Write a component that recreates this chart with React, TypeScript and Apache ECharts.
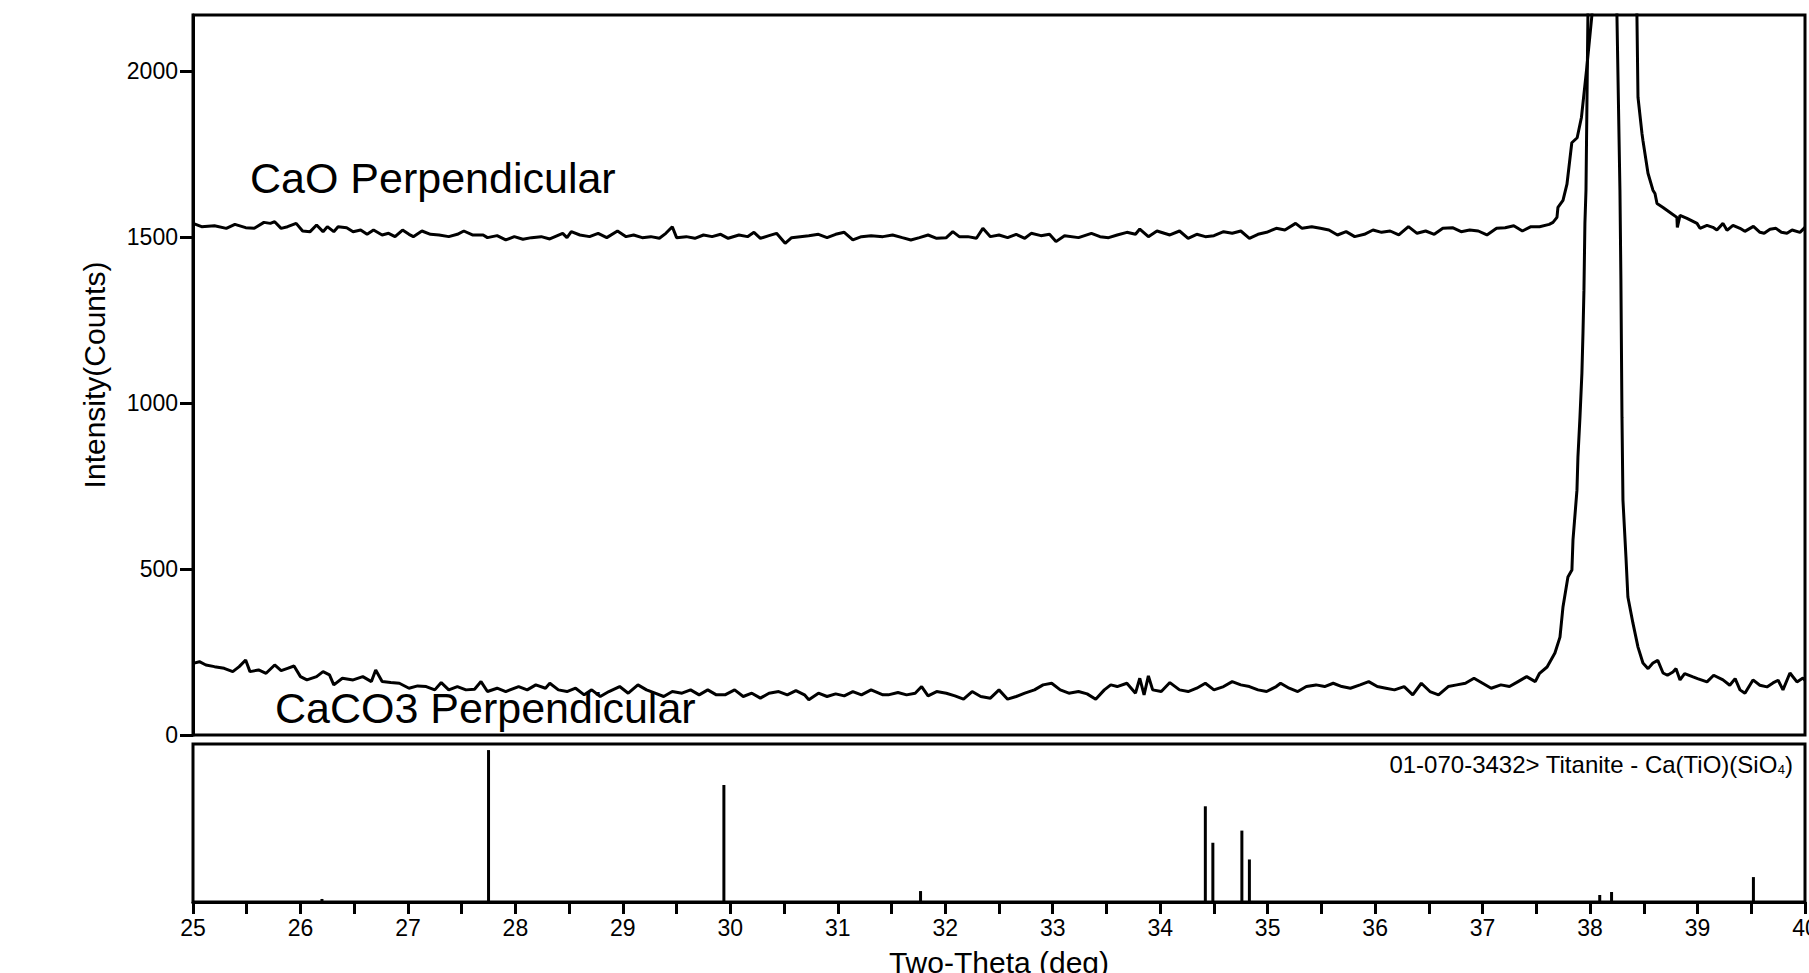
import React, { useEffect, useRef } from 'react';
import * as echarts from 'echarts';

const FONT = '"Liberation Sans", Arial, Helvetica, sans-serif';

// Upper panel tick values (Intensity, counts)
const yTickValues = [0, 500, 1000, 1500, 2000];

// CaO Perpendicular pattern: [two-theta (deg), intensity (counts)]
const caoPerpendicular: [number, number][] = [
  [25.0, 1542], [25.08, 1532], [25.2, 1535], [25.31, 1527], [25.39, 1539], [25.49, 1529], [25.57, 1527],
  [25.66, 1545], [25.72, 1542], [25.76, 1547], [25.82, 1527], [25.88, 1532], [25.96, 1542], [26.02, 1519],
  [26.09, 1517], [26.15, 1537], [26.21, 1517], [26.25, 1532], [26.31, 1517], [26.35, 1532], [26.43, 1529],
  [26.49, 1517], [26.56, 1522], [26.62, 1509], [26.68, 1522], [26.76, 1507], [26.82, 1512], [26.88, 1502],
  [26.95, 1522], [27.01, 1509], [27.05, 1502], [27.13, 1519], [27.21, 1509], [27.29, 1507], [27.38, 1502],
  [27.46, 1509], [27.52, 1519], [27.6, 1507], [27.7, 1507], [27.74, 1499], [27.83, 1505], [27.91, 1492],
  [27.99, 1502], [28.07, 1494], [28.15, 1499], [28.24, 1502], [28.32, 1495], [28.44, 1512], [28.48, 1499],
  [28.52, 1517], [28.6, 1507], [28.69, 1502], [28.77, 1512], [28.85, 1499], [28.95, 1519], [29.03, 1502],
  [29.1, 1507], [29.18, 1499], [29.26, 1502], [29.34, 1497], [29.4, 1512], [29.46, 1532], [29.5, 1499],
  [29.59, 1502], [29.67, 1497], [29.75, 1507], [29.83, 1502], [29.91, 1509], [29.98, 1497], [30.08, 1507],
  [30.16, 1502], [30.22, 1515], [30.28, 1497], [30.36, 1505], [30.43, 1512], [30.51, 1482], [30.57, 1499],
  [30.65, 1502], [30.73, 1505], [30.82, 1509], [30.9, 1499], [30.98, 1509], [31.06, 1515], [31.14, 1492],
  [31.22, 1502], [31.31, 1505], [31.42, 1502], [31.51, 1507], [31.6, 1499], [31.68, 1492], [31.76, 1499],
  [31.84, 1507], [31.92, 1497], [32.01, 1499], [32.07, 1517], [32.13, 1502], [32.21, 1502], [32.29, 1497],
  [32.35, 1527], [32.42, 1502], [32.5, 1507], [32.58, 1499], [32.66, 1509], [32.74, 1497], [32.8, 1512],
  [32.89, 1505], [32.97, 1509], [33.03, 1487], [33.11, 1505], [33.24, 1499], [33.36, 1512], [33.44, 1502],
  [33.52, 1499], [33.6, 1507], [33.69, 1515], [33.77, 1509], [33.81, 1525], [33.89, 1502], [33.97, 1519],
  [34.09, 1507], [34.18, 1519], [34.26, 1497], [34.34, 1509], [34.42, 1502], [34.5, 1505], [34.59, 1517],
  [34.67, 1512], [34.75, 1519], [34.83, 1497], [34.91, 1509], [34.99, 1515], [35.08, 1527], [35.16, 1522],
  [35.26, 1542], [35.32, 1527], [35.41, 1532], [35.49, 1527], [35.57, 1522], [35.65, 1507], [35.73, 1517],
  [35.81, 1502], [35.9, 1509], [35.98, 1522], [36.06, 1515], [36.14, 1519], [36.22, 1507], [36.31, 1532],
  [36.39, 1512], [36.47, 1519], [36.55, 1509], [36.63, 1527], [36.72, 1529], [36.8, 1517], [36.88, 1522],
  [36.96, 1519], [37.04, 1507], [37.13, 1527], [37.21, 1529], [37.29, 1535], [37.37, 1519], [37.45, 1532],
  [37.53, 1532], [37.62, 1539], [37.655, 1545], [37.692, 1560], [37.701, 1590], [37.748, 1611],
  [37.785, 1660], [37.83, 1785], [37.88, 1800], [37.92, 1862], [37.97, 2013], [38.017, 2169],
  [38.06, 2600], [38.22, 3400], [38.4, 2600], [38.436, 2169], [38.446, 1922], [38.483, 1813],
  [38.492, 1792], [38.539, 1693], [38.585, 1642], [38.604, 1632], [38.623, 1602], [38.679, 1590],
  [38.744, 1575], [38.808, 1560], [38.812, 1530], [38.837, 1566], [38.902, 1557], [38.995, 1542],
  [39.023, 1527], [39.088, 1536], [39.143, 1530], [39.18, 1522], [39.237, 1542], [39.274, 1521],
  [39.33, 1536], [39.395, 1527], [39.44, 1518], [39.488, 1527], [39.52, 1533], [39.581, 1515],
  [39.62, 1512], [39.674, 1524], [39.73, 1527], [39.78, 1515], [39.832, 1512], [39.88, 1522],
  [39.953, 1515], [40.0, 1530],
];

// CaCO3 Perpendicular pattern: [two-theta (deg), intensity (counts)]
const caco3Perpendicular: [number, number][] = [
  [25.0, 216], [25.06, 221], [25.12, 211], [25.2, 206], [25.29, 201], [25.37, 191], [25.43, 206],
  [25.49, 226], [25.53, 191], [25.61, 196], [25.68, 186], [25.76, 211], [25.82, 194], [25.88, 201],
  [25.94, 208], [26.0, 176], [26.06, 166], [26.15, 176], [26.21, 191], [26.27, 181], [26.31, 151],
  [26.39, 171], [26.49, 166], [26.58, 176], [26.66, 161], [26.7, 196], [26.76, 161], [26.84, 158],
  [26.92, 156], [27.01, 141], [27.09, 148], [27.17, 146], [27.25, 136], [27.31, 158], [27.38, 136],
  [27.46, 146], [27.54, 136], [27.62, 138], [27.68, 161], [27.74, 131], [27.83, 141], [27.91, 131],
  [28.03, 146], [28.11, 136], [28.19, 151], [28.28, 141], [28.32, 156], [28.4, 136], [28.48, 131],
  [28.56, 141], [28.64, 121], [28.71, 136], [28.79, 116], [28.87, 131], [28.97, 146], [29.05, 126],
  [29.14, 151], [29.22, 136], [29.3, 126], [29.38, 116], [29.46, 131], [29.55, 126], [29.63, 136],
  [29.71, 121], [29.79, 136], [29.87, 121], [29.95, 121], [30.04, 136], [30.12, 116], [30.2, 126],
  [30.28, 111], [30.36, 126], [30.45, 131], [30.53, 121], [30.61, 134], [30.69, 121], [30.73, 106],
  [30.82, 126], [30.9, 116], [30.98, 124], [31.06, 118], [31.14, 131], [31.22, 121], [31.31, 136],
  [31.42, 121], [31.47, 121], [31.56, 128], [31.64, 121], [31.72, 126], [31.78, 146], [31.84, 118],
  [31.92, 131], [32.01, 126], [32.09, 118], [32.17, 108], [32.25, 131], [32.33, 116], [32.42, 111],
  [32.5, 136], [32.58, 108], [32.66, 116], [32.74, 126], [32.83, 136], [32.91, 151], [32.99, 156],
  [33.07, 136], [33.15, 126], [33.24, 131], [33.32, 124], [33.4, 108], [33.48, 136], [33.54, 151],
  [33.6, 146], [33.69, 156], [33.77, 126], [33.81, 171], [33.85, 121], [33.89, 178], [33.93, 136],
  [34.01, 131], [34.09, 158], [34.18, 136], [34.26, 131], [34.34, 141], [34.42, 156], [34.5, 136],
  [34.59, 146], [34.67, 161], [34.75, 151], [34.83, 146], [34.91, 136], [34.99, 131], [35.08, 146],
  [35.12, 156], [35.2, 141], [35.28, 131], [35.36, 146], [35.45, 151], [35.53, 146], [35.61, 156],
  [35.69, 146], [35.77, 141], [35.86, 151], [35.94, 161], [36.02, 146], [36.1, 141], [36.18, 136],
  [36.27, 146], [36.35, 121], [36.43, 156], [36.51, 131], [36.59, 121], [36.68, 146], [36.76, 151],
  [36.84, 156], [36.92, 171], [37.0, 156], [37.08, 141], [37.17, 151], [37.25, 146], [37.33, 161],
  [37.41, 176], [37.49, 161], [37.53, 186], [37.6, 205], [37.673, 247], [37.72, 295], [37.748, 386],
  [37.794, 476], [37.831, 497], [37.841, 587], [37.878, 738], [37.887, 837], [37.906, 958],
  [37.924, 1090], [37.934, 1211], [37.943, 1340], [37.952, 1542], [37.962, 1642], [37.98, 2169],
  [38.02, 3200], [38.115, 5000], [38.21, 3200], [38.25, 2169], [38.278, 1642], [38.287, 1370],
  [38.297, 958], [38.306, 708], [38.334, 536], [38.352, 416], [38.399, 337], [38.446, 265],
  [38.492, 217], [38.54, 200], [38.585, 217], [38.63, 225], [38.679, 187], [38.72, 180],
  [38.771, 190], [38.8, 200], [38.837, 166], [38.88, 185], [38.958, 175], [39.0, 170], [39.088, 160],
  [39.15, 180], [39.237, 166], [39.3, 150], [39.35, 170], [39.395, 136], [39.441, 126], [39.516, 166],
  [39.58, 150], [39.646, 145], [39.702, 157], [39.75, 165], [39.795, 136], [39.86, 187], [39.925, 160],
  [39.981, 172], [40.0, 165],
];

// Reference pattern 01-070-3432 Titanite: line positions and relative intensities
const titaniteTwoTheta = [26.2, 27.75, 29.94, 31.77, 34.42, 34.49, 34.76, 34.83, 38.09, 38.2, 39.52];
const titaniteIntensity = [2, 100, 77, 7.2, 63, 39, 47, 28, 4.6, 6.6, 16.4];

export default function App() {
  const ref = useRef<HTMLDivElement>(null);

  useEffect(() => {
    if (!ref.current) return;
    const chart = echarts.init(ref.current, null, { renderer: 'svg' });
    const black = '#000';
    chart.setOption({
      animation: false,
      backgroundColor: '#fff',
      textStyle: { fontFamily: FONT },
      grid: [
        {
          left: 193, top: 15, width: 1612, height: 720, show: true, borderColor: black, borderWidth: 3,
          backgroundColor: 'transparent', containLabel: false, outerBoundsMode: 'none',
        },
        {
          left: 193, top: 744, width: 1612, height: 158, show: true, borderColor: black, borderWidth: 3,
          backgroundColor: 'transparent', containLabel: false, outerBoundsMode: 'none',
        },
      ],
      xAxis: [
        { gridIndex: 0, type: 'value', min: 25, max: 40, show: false },
        {
          gridIndex: 1, type: 'value', min: 25, max: 40, interval: 0.5,
          axisLine: { show: true, lineStyle: { color: black, width: 3 } },
          axisTick: { show: true, length: 12, lineStyle: { color: black, width: 3 } },
          axisLabel: {
            fontSize: 23, color: black, fontFamily: FONT, margin: 14, hideOverlap: false,
            formatter: (v: number) => (Number.isInteger(v) ? String(v) : ''),
          },
          splitLine: { show: false },
          name: 'Two-Theta (deg)', nameLocation: 'middle', nameGap: 45,
          nameTextStyle: { fontSize: 30, color: black, fontFamily: FONT },
        },
      ],
      yAxis: [
        {
          gridIndex: 0, type: 'value', min: 0, max: 2170,
          axisLine: { show: true, lineStyle: { color: black, width: 3 } },
          axisTick: { show: true, length: 13, customValues: yTickValues, lineStyle: { color: black, width: 3 } },
          axisLabel: {
            customValues: yTickValues, fontSize: 23, color: black, fontFamily: FONT, margin: 15,
            formatter: (v: number) => String(v),
          },
          splitLine: { show: false },
          name: 'Intensity(Counts)', nameLocation: 'middle', nameGap: 84,
          nameTextStyle: { fontSize: 30, color: black, fontFamily: FONT },
        },
        { gridIndex: 1, type: 'value', min: 0, max: 104, show: false },
      ],
      series: [
        {
          name: 'CaO Perpendicular', type: 'line', xAxisIndex: 0, yAxisIndex: 0,
          data: caoPerpendicular, symbol: 'none', clip: true, silent: true,
          lineStyle: { color: black, width: 3 },
        },
        {
          name: 'CaCO3 Perpendicular', type: 'line', xAxisIndex: 0, yAxisIndex: 0,
          data: caco3Perpendicular, symbol: 'none', clip: true, silent: true,
          lineStyle: { color: black, width: 3 },
        },
        {
          name: '01-070-3432> Titanite', type: 'bar', xAxisIndex: 1, yAxisIndex: 1,
          data: titaniteTwoTheta.map((t, i) => [t, titaniteIntensity[i]]),
          barWidth: 3, itemStyle: { color: black }, silent: true,
        },
      ],
      graphic: [
        {
          type: 'text', left: 250, top: 156, silent: true,
          style: { text: 'CaO Perpendicular', fontSize: 43, fill: black, fontFamily: FONT },
        },
        {
          type: 'text', left: 275, top: 686, silent: true,
          style: { text: 'CaCO3 Perpendicular', fontSize: 43, fill: black, fontFamily: FONT },
        },
        {
          type: 'text', right: 1809 - 1793, top: 752, silent: true,
          style: {
            text: '{n|01-070-3432> Titanite - Ca(TiO)(SiO}{s|4}{n|)}',
            fill: black,
            rich: {
              n: { fontSize: 24, fontFamily: FONT, fill: black },
              s: { fontSize: 13, fontFamily: FONT, fill: black, verticalAlign: 'bottom' },
            },
          },
        },
      ],
    });
    return () => chart.dispose();
  }, []);

  return (
    <div
      ref={ref}
      style={{ position: 'fixed', left: 0, top: 0, width: 1809, height: 973, background: '#fff' }}
    />
  );
}
